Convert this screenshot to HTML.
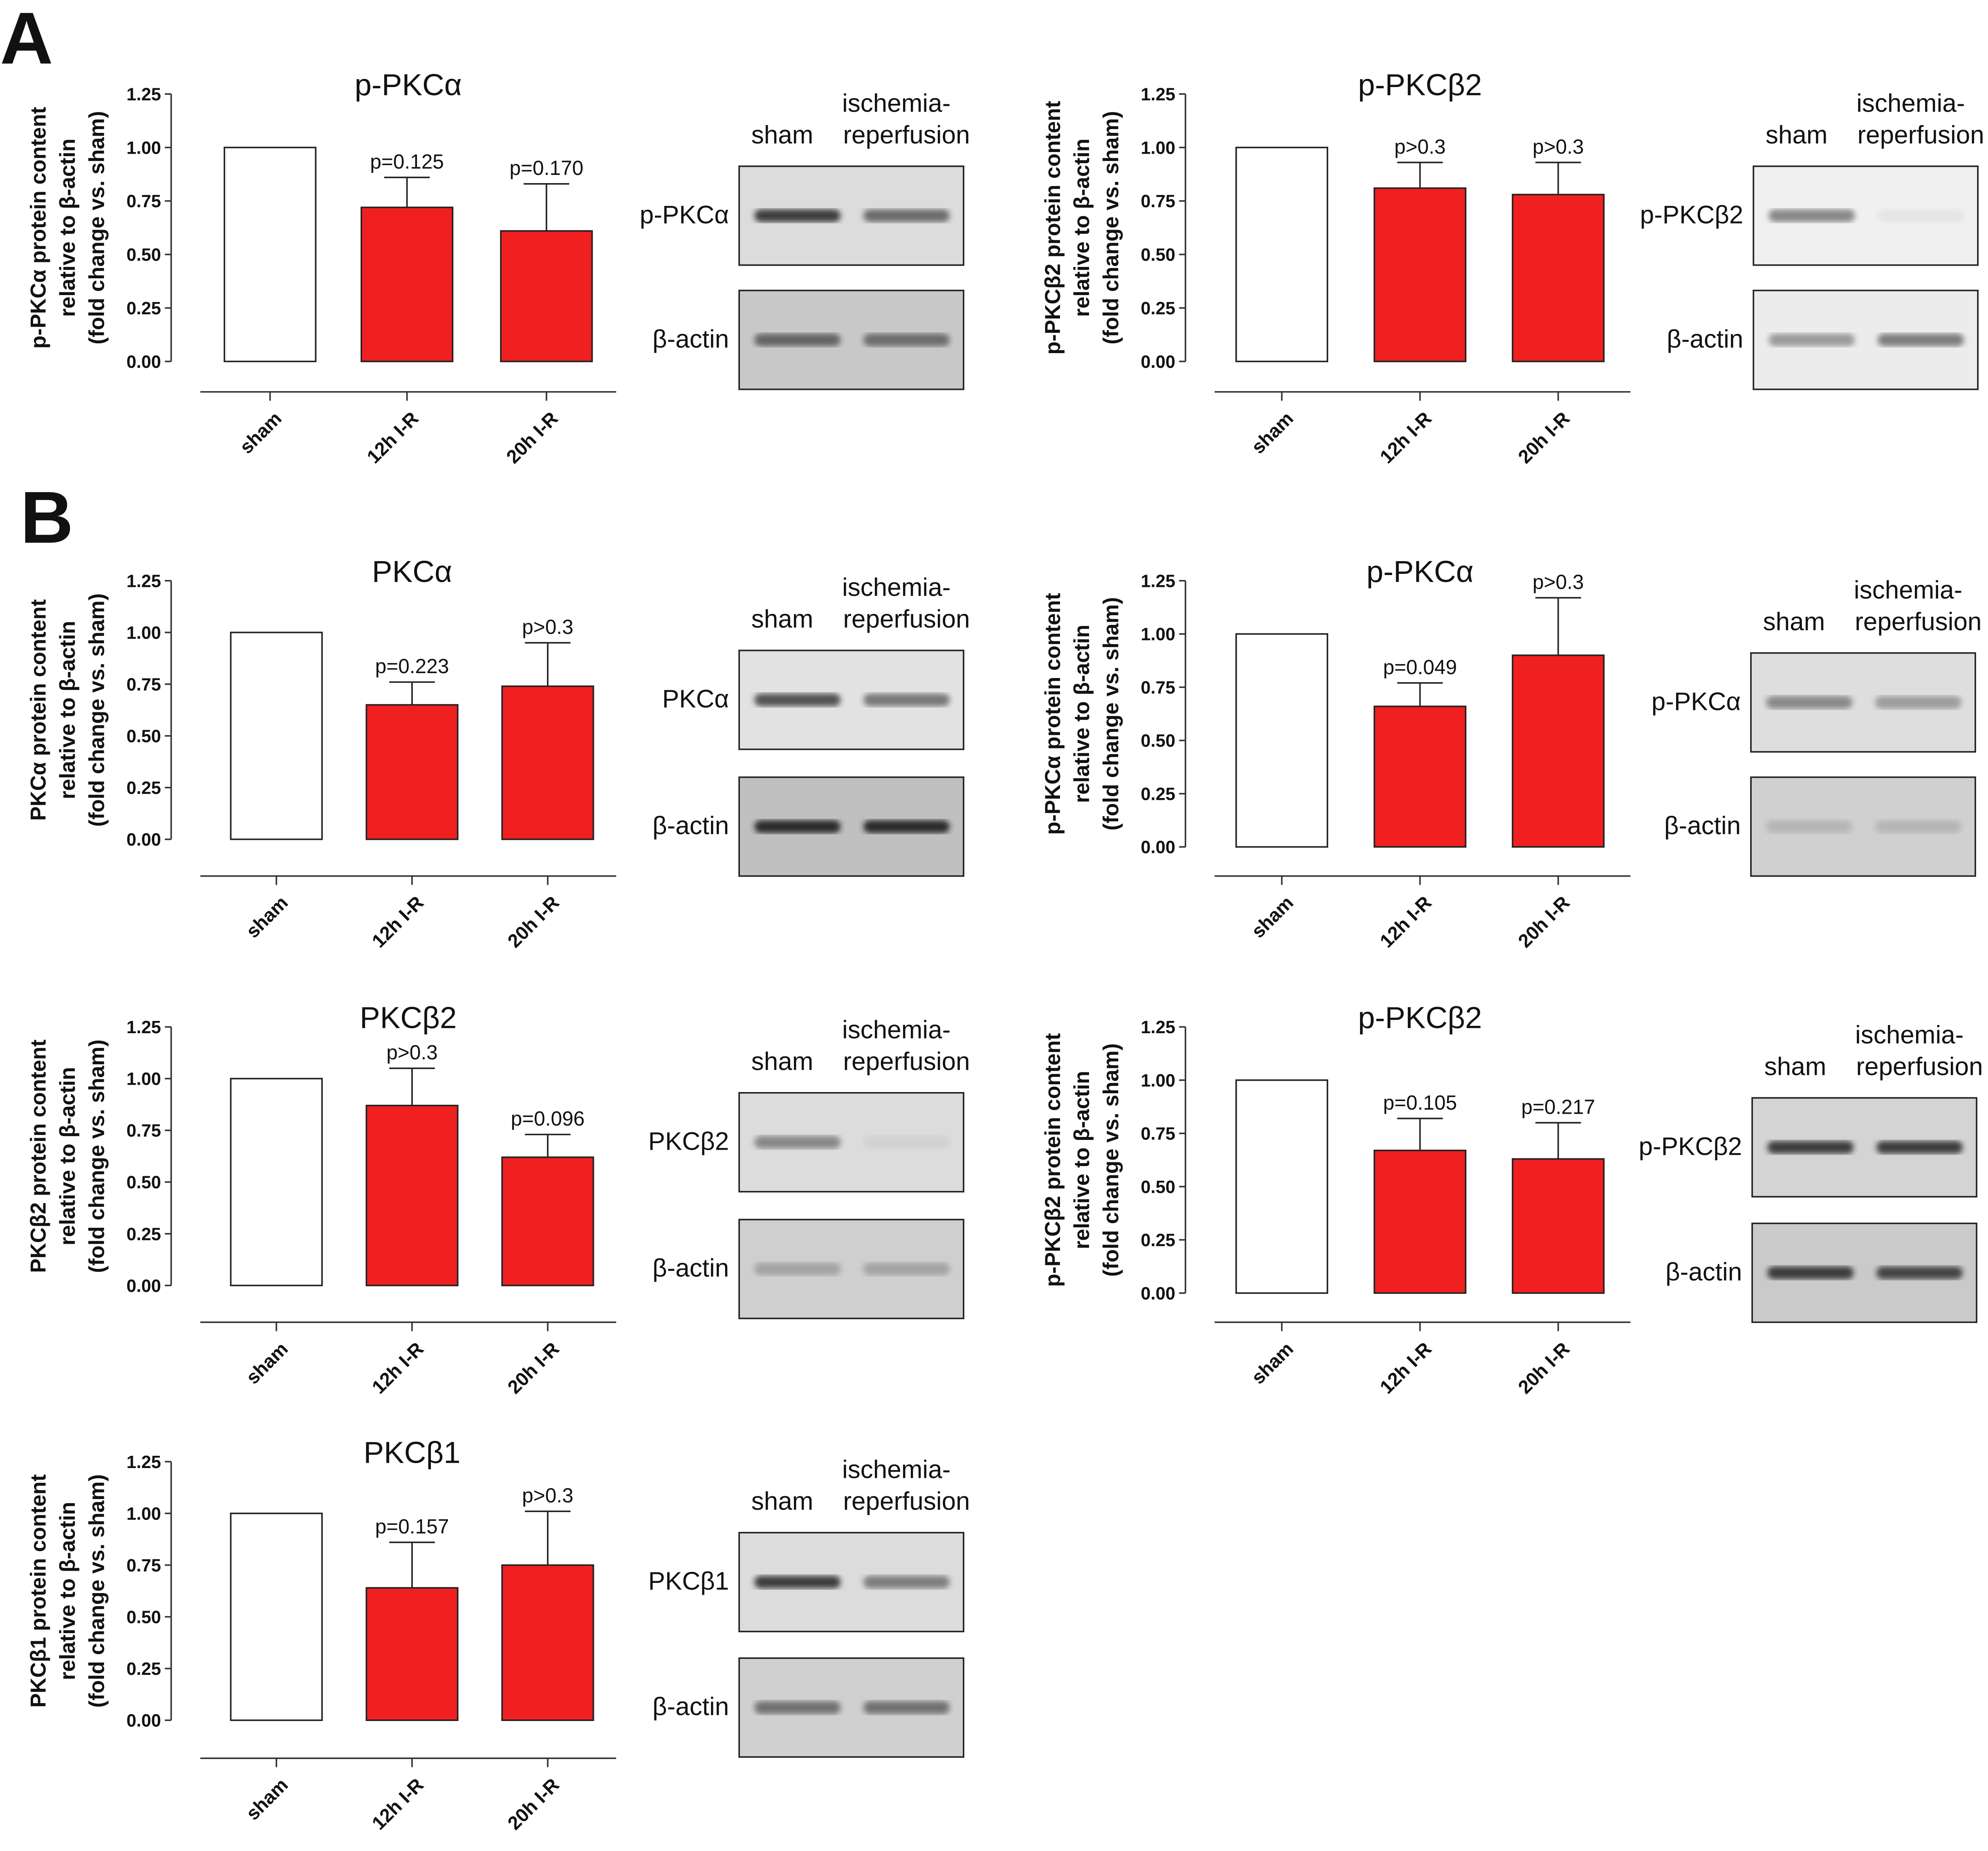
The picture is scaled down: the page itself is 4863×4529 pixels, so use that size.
<!DOCTYPE html>
<html><head><meta charset="utf-8"><style>
html,body{margin:0;padding:0;background:#fff}
svg{display:block}
text{font-family:"Liberation Sans",Arial,sans-serif;fill:#111}
</style></head><body>
<svg id="fig" width="4863" height="4529" viewBox="0 0 1568 1460" xmlns="http://www.w3.org/2000/svg">
<defs>
<filter id="blur1"><feGaussianBlur stdDeviation="2.2"/></filter>
</defs>
</svg>
<script>
const categories = ["sham","12h I-R","20h I-R"];
const valsA1 = [1, 0.72, 0.61];   const errA1 = [0, 0.86, 0.83]; const pA1 = ["", "p=0.125", "p=0.170"];
const valsA2 = [1, 0.81, 0.78];   const errA2 = [0, 0.93, 0.93]; const pA2 = ["", "p>0.3", "p>0.3"];
const valsB1 = [1, 0.65, 0.74];   const errB1 = [0, 0.76, 0.95]; const pB1 = ["", "p=0.223", "p>0.3"];
const valsB2 = [1, 0.66, 0.90];   const errB2 = [0, 0.77, 1.17]; const pB2 = ["", "p=0.049", "p>0.3"];
const valsB3 = [1, 0.87, 0.62];   const errB3 = [0, 1.05, 0.73]; const pB3 = ["", "p>0.3", "p=0.096"];
const valsB4 = [1, 0.67, 0.63];   const errB4 = [0, 0.82, 0.80]; const pB4 = ["", "p=0.105", "p=0.217"];
const valsB5 = [1, 0.64, 0.75];   const errB5 = [0, 0.86, 1.01]; const pB5 = ["", "p=0.157", "p>0.3"];
const yTicks = [0, 0.25, 0.5, 0.75, 1.0, 1.25];
const yTickLabels = ["0.00","0.25","0.50","0.75","1.00","1.25"];

const NS="http://www.w3.org/2000/svg";
const svg=document.getElementById('fig');
function mk(tag,attrs,parent){const e=document.createElementNS(NS,tag);for(const k in attrs)e.setAttribute(k,attrs[k]);(parent||svg).appendChild(e);return e;}
function txt(s,attrs,parent){const e=mk('text',attrs,parent);e.textContent=s;return e;}

function chart(o){
  const g=mk('g',{});
  
  
  const y=v=>o.y0-(o.y0-o.y125)*v/1.25;
  const bx=o.barX;
  const t=txt(o.title,{x:o.titleX,y:o.y125+1,'text-anchor':'middle','font-size':24},g);
  
  
  const ax=mk('line',{x1:o.axX,x2:o.axX,y1:y(1.25),y2:y(0),stroke:'#333','stroke-width':1.2},g);
  
  
  yTicks.forEach((v,i)=>{
    mk('line',{x1:o.axX-5,x2:o.axX,y1:y(v),y2:y(v),stroke:'#333','stroke-width':1.2},g);
    const tl=txt(yTickLabels[i],{x:o.axX-8,y:y(v)+5,'text-anchor':'end','font-size':14,'font-weight':'bold',fill:'#333'},g);
    
    
  });
  const cy=(y(0)+y(1.25))/2;
  o.ytitle.forEach((line,i)=>{
    const yt=txt(line,{x:0,y:0,'text-anchor':'middle','font-size':17,'font-weight':'bold',transform:`translate(${o.axX-99+i*23},${cy}) rotate(-90)`},g);
    
    
  });
  const xa=mk('line',{x1:o.axX+23,x2:o.axX+351,y1:o.xAxY,y2:o.xAxY,stroke:'#333','stroke-width':1.2},g);
  
  
  o.vals.forEach((v,i)=>{
    const x=bx[i], w=72, cx=x+w/2;
    const b=mk('rect',{x:x,y:y(v),width:w,height:y(0)-y(v),fill:i?'#f02020':'#fff',stroke:'#222','stroke-width':1.2},g);
    
    
    if(o.err[i]){
      const e=mk('path',{d:`M${cx},${y(v)}V${y(o.err[i])}M${cx-18},${y(o.err[i])}H${cx+18}`,stroke:'#222','stroke-width':1.2,fill:'none'},g);
      
      
      const p=txt(o.p[i],{x:cx,y:y(o.err[i])-7,'text-anchor':'middle','font-size':16},g);
      
      
    }
    mk('line',{x1:cx,x2:cx,y1:o.xAxY,y2:o.xAxY+7,stroke:'#333','stroke-width':1.2},g);
    const cl=txt(categories[i],{x:0,y:0,'text-anchor':'end','font-size':15,'font-weight':'bold',transform:`translate(${cx+10},${o.xAxY+22}) rotate(-45)`},g);
    
    
  });
}
function blot(o){
  const g=mk('g',{});
  
  
  const a=txt('ischemia-',{x:o.x+124,y:o.y1-43,'text-anchor':'middle','font-size':20},g);
  const b=txt('reperfusion',{x:o.x+132,y:o.y1-18,'text-anchor':'middle','font-size':20},g);
  const s=txt('sham',{x:o.x+34,y:o.y1-18,'text-anchor':'middle','font-size':20},g);
  [a,b,s].forEach(e=>{});
  [[o.y1,o.label,o.b1],[o.y2,'β-actin',o.b2]].forEach(([yy,lab,bands],k)=>{
    mk('rect',{x:o.x,y:yy,width:177,height:78,fill:k?o.bg2:o.bg1,stroke:'#222','stroke-width':1.2},g);
    bands.forEach((d,j)=>{
      if(d>0) mk('rect',{x:o.x+12+j*86,y:yy+34,width:68,height:10,rx:5,fill:'#222',opacity:d,filter:'url(#blur1)'},g);
    });
    const l=txt(lab,{x:o.x-8,y:yy+45,'text-anchor':'end','font-size':20},g);
    
    
  });
}
const yt=n=>[n+' protein content','relative to β-actin','(fold change vs. sham)'];
chart({id:'a1',title:'p-PKCα',titleX:322,axX:135,y125:74,y0:285,xAxY:309,barX:[177,285,395],vals:valsA1,err:errA1,p:pA1,ytitle:yt('p-PKCα')});
chart({id:'a2',title:'p-PKCβ2',titleX:1120,axX:935,y125:74,y0:285,xAxY:309,barX:[975,1084,1193],vals:valsA2,err:errA2,p:pA2,ytitle:yt('p-PKCβ2')});
chart({id:'b1',title:'PKCα',titleX:325,axX:135,y125:458,y0:662,xAxY:691,barX:[182,289,396],vals:valsB1,err:errB1,p:pB1,ytitle:yt('PKCα')});
chart({id:'b2',title:'p-PKCα',titleX:1120,axX:935,y125:458,y0:668,xAxY:691,barX:[975,1084,1193],vals:valsB2,err:errB2,p:pB2,ytitle:yt('p-PKCα')});
chart({id:'b3',title:'PKCβ2',titleX:322,axX:135,y125:810,y0:1014,xAxY:1043,barX:[182,289,396],vals:valsB3,err:errB3,p:pB3,ytitle:yt('PKCβ2')});
chart({id:'b4',title:'p-PKCβ2',titleX:1120,axX:935,y125:810,y0:1020,xAxY:1043,barX:[975,1084,1193],vals:valsB4,err:errB4,p:pB4,ytitle:yt('p-PKCβ2')});
chart({id:'b5',title:'PKCβ1',titleX:325,axX:135,y125:1153,y0:1357,xAxY:1387,barX:[182,289,396],vals:valsB5,err:errB5,p:pB5,ytitle:yt('PKCβ1')});

blot({id:'a1',x:583,y1:131,y2:229,label:'p-PKCα',b1:[0.85,0.6],b2:[0.6,0.55],bg1:'#dcdcdc',bg2:'#c8c8c8'});
blot({id:'a2',x:1383,y1:131,y2:229,label:'p-PKCβ2',b1:[0.5,0.05],b2:[0.4,0.55],bg1:'#f0f0f0',bg2:'#ececec'});
blot({id:'b1',x:583,y1:513,y2:613,label:'PKCα',b1:[0.75,0.55],b2:[0.95,0.95],bg1:'#e2e2e2',bg2:'#c0c0c0'});
blot({id:'b2',x:1381,y1:515,y2:613,label:'p-PKCα',b1:[0.45,0.35],b2:[0.15,0.15],bg1:'#dedede',bg2:'#d0d0d0'});
blot({id:'b3',x:583,y1:862,y2:962,label:'PKCβ2',b1:[0.45,0.05],b2:[0.25,0.25],bg1:'#dcdcdc',bg2:'#cfcfcf'});
blot({id:'b4',x:1382,y1:866,y2:965,label:'p-PKCβ2',b1:[0.85,0.85],b2:[0.85,0.8],bg1:'#d4d4d4',bg2:'#cacaca'});
blot({id:'b5',x:583,y1:1209,y2:1308,label:'PKCβ1',b1:[0.85,0.5],b2:[0.55,0.55],bg1:'#dcdcdc',bg2:'#d0d0d0'});

const A=txt('A',{x:0,y:50,'font-size':58,'font-weight':'bold'});


const B=txt('B',{x:16,y:428,'font-size':58,'font-weight':'bold'});


</script>
</body></html>
